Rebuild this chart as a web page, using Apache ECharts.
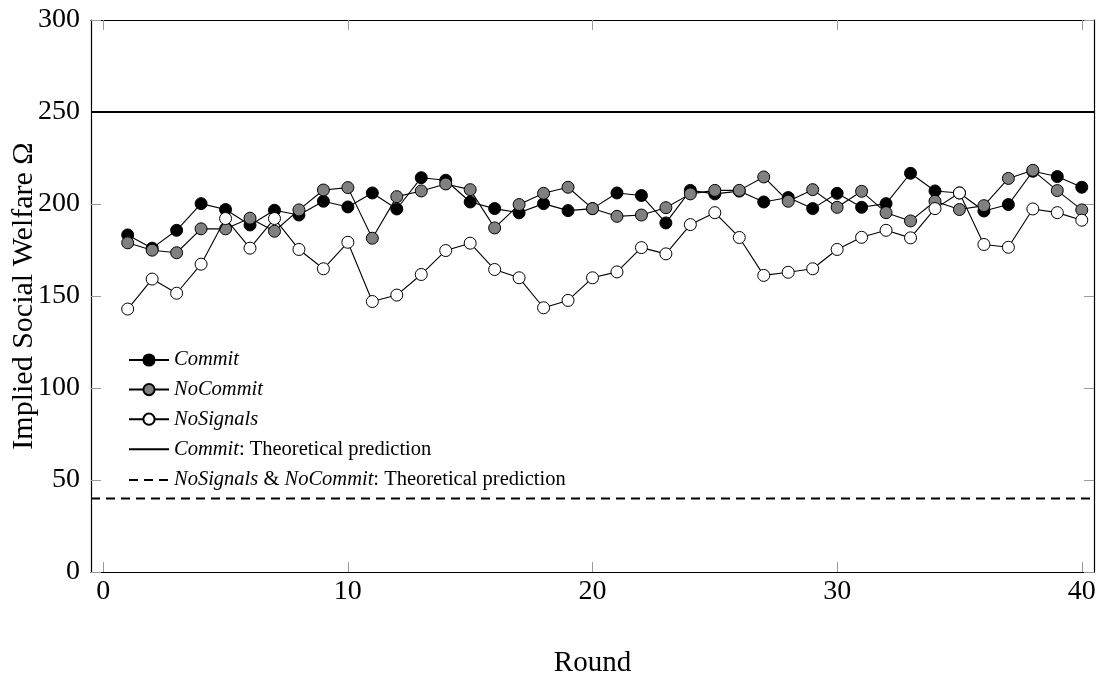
<!DOCTYPE html>
<html><head><meta charset="utf-8">
<script src="https://cdn.jsdelivr.net/npm/echarts@6/dist/echarts.min.js"></script>
<style>html,body{margin:0;padding:0;background:#fff}#c{width:1097px;height:674px}</style>
</head><body><div id="c"></div>
<script>
const rounds = [1,2,3,4,5,6,7,8,9,10,11,12,13,14,15,16,17,18,19,20,21,22,23,24,25,26,27,28,29,30,31,32,33,34,35,36,37,38,39,40];
const commit = [183.2,176,185.7,200.2,197,188.6,196.6,194,201.5,198.4,206,197.3,214.3,212.9,201.1,197.5,195.2,200.2,196.4,197.5,206,204.6,189.7,207.4,205.5,207,201.1,203.5,197.5,205.8,198.2,200.2,216.7,207.1,206,196.2,199.7,217.8,214.9,209.1];
const noCommit = [178.9,174.9,173.5,186.5,186.5,192.3,185.2,196.8,207.6,208.9,181.4,204,207.1,210.9,207.8,187,199.7,205.8,209.1,197.5,193.3,194,198,205.5,207.4,207.4,214.7,201.5,207.8,198.2,206.9,195.3,190.8,201.5,197,199.1,213.9,218.3,207.3,196.8];
const noSignals = [142.9,159.2,151.5,167.3,192.1,176,192.1,175.3,164.8,179.2,147,150.5,161.7,174.7,178.7,164.4,159.9,143.6,147.6,159.9,163.1,176.3,172.9,188.8,195.3,181.8,161.2,162.9,164.8,175.3,181.9,185.7,181.6,197.5,206,178,176.5,197.3,195.3,191.2];
const commitTheory = 250;
const noCommitTheory = 40;
const xTicks = [0,10,20,30,40];
const xRange = [-0.5, 40.5];

const FONT = 'Liberation Serif';
const pts = a => a.map((v,i)=>[rounds[i], v]);
const hline = v => xRange.map(x=>[x, v]);

const chart = echarts.init(document.getElementById('c'), null, {renderer:'canvas'});
const tickStyle = {show:true, inside:true, length:10, lineStyle:{color:'#9a9a9a', width:1}};
const axisLine = {show:true, onZero:false, lineStyle:{color:'#000', width:1.2}};
const mkSeries = (name, data, fill, z) => ({
  name, type:'line', data: pts(data), symbol:'circle', symbolSize:12,
  lineStyle:{color:'#000', width:1.1}, itemStyle:{color:fill, borderColor:'#000', borderWidth:1},
  z, animation:false, emphasis:{disabled:true}
});
const LF = 20.5;
const noSym = {color:'rgba(0,0,0,0)', borderWidth:0, opacity:0};
chart.setOption({
  animation:false,
  grid:{left:91, right:3, top:20, bottom:102, containLabel:false, outerBoundsMode:'none'},
  legend:{
    orient:'vertical', left:123, top:345, itemWidth:40, itemHeight:14, itemGap:9.6,
    data:[
      {name:'Commit'},{name:'NoCommit'},{name:'NoSignals'},
      {name:'Commit: Theoretical prediction', itemStyle:noSym},
      {name:'NoSignals & NoCommit: Theoretical prediction', itemStyle:noSym}
    ],
    textStyle:{fontFamily:FONT, fontSize:LF, color:'#000', lineHeight:18,
      rich:{i:{fontFamily:FONT, fontStyle:'italic', fontSize:LF, color:'#000', lineHeight:18}, n:{fontFamily:FONT, fontSize:LF, color:'#000', lineHeight:18}}},
    formatter: n => ({
      'Commit':'{i|Commit}',
      'NoCommit':'{i|NoCommit}',
      'NoSignals':'{i|NoSignals}',
      'Commit: Theoretical prediction':'{i|Commit}{n|: Theoretical prediction}',
      'NoSignals & NoCommit: Theoretical prediction':'{i|NoSignals}{n| & }{i|NoCommit}{n|: Theoretical prediction}'
    })[n],
    selectedMode:false
  },
  xAxis:[
    {type:'value', min:xRange[0], max:xRange[1], position:'bottom',
     axisLine, splitLine:{show:false},
     axisTick:Object.assign({customValues:xTicks}, tickStyle),
     axisLabel:{customValues:xTicks, fontFamily:FONT, fontSize:28, color:'#000', margin:6},
     name:'Round', nameLocation:'middle', nameGap:77, nameMoveOverlap:false,
     nameTextStyle:{fontFamily:FONT, fontSize:29, color:'#000'}},
    {type:'value', min:xRange[0], max:xRange[1], position:'top',
     axisLine, splitLine:{show:false},
     axisTick:Object.assign({customValues:xTicks}, tickStyle), axisLabel:{show:false}}
  ],
  yAxis:[
    {type:'value', min:0, max:300, interval:50, position:'left', axisLine, splitLine:{show:false},
     axisTick:tickStyle,
     axisLabel:{fontFamily:FONT, fontSize:28, color:'#000', margin:11},
     name:'Implied Social Welfare Ω', nameLocation:'middle', nameRotate:90, nameGap:52, nameMoveOverlap:false,
     nameTextStyle:{fontFamily:FONT, fontSize:30, color:'#000'}},
    {type:'value', min:0, max:300, interval:50, position:'right', axisLine, splitLine:{show:false},
     axisTick:tickStyle, axisLabel:{show:false}}
  ],
  series:[
    mkSeries('Commit', commit, '#000', 3),
    mkSeries('NoCommit', noCommit, '#808080', 4),
    mkSeries('NoSignals', noSignals, '#fff', 5),
    {name:'Commit: Theoretical prediction', type:'line', data:hline(commitTheory), symbol:'none',
     lineStyle:{color:'#000', width:2}, itemStyle:{color:'#000'}, z:2, emphasis:{disabled:true}},
    {name:'NoSignals & NoCommit: Theoretical prediction', type:'line', data:hline(noCommitTheory), symbol:'none',
     lineStyle:{color:'#000', width:2, type:[9,6]}, itemStyle:{color:'#000'}, z:2, emphasis:{disabled:true}}
  ]
});
</script></body></html>
